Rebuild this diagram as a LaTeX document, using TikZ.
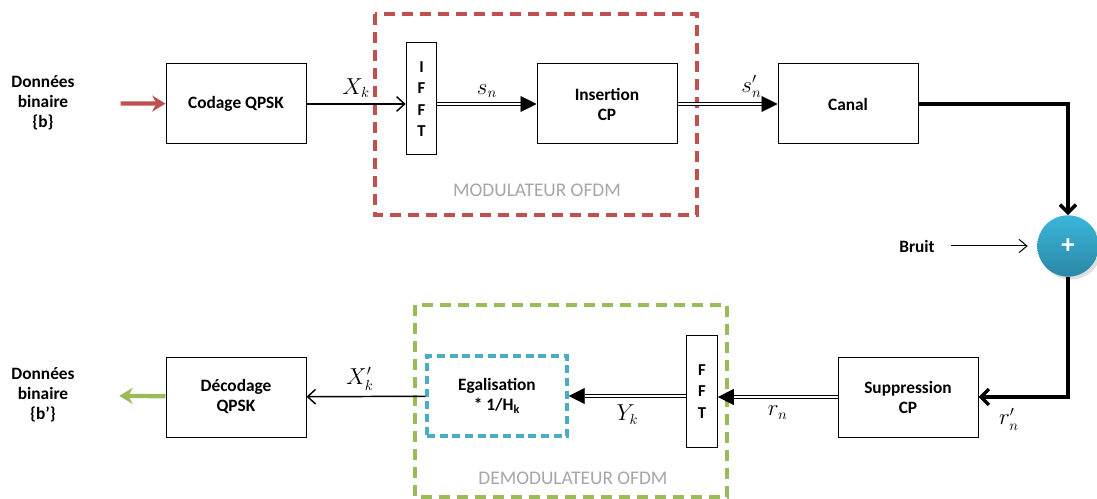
\documentclass[tikz,border=0pt]{standalone}
\usepackage{fontspec}
\setsansfont{Carlito}
\usetikzlibrary{arrows.meta, positioning, shadows}
\definecolor{modred}{HTML}{C0504D}
\definecolor{demgreen}{HTML}{9BBB59}
\definecolor{eqblue}{HTML}{4BACC6}
\definecolor{frametext}{HTML}{A6A6A6}
\definecolor{sumtop}{HTML}{3CB6DA}
\definecolor{sumbot}{HTML}{2A88A6}

\begin{document}
\begin{tikzpicture}[x=0.75pt, y=-0.75pt, >=Stealth,
    blk/.style={draw, line width=0.75pt, minimum width=105pt, minimum height=60pt,
                font=\fontsize{13}{15}\sffamily\bfseries, align=center},
    fftblk/.style={draw, line width=0.75pt, minimum width=23pt, minimum height=84pt,
                   font=\fontsize{12.5}{16}\sffamily\bfseries, align=center},
    txt/.style={font=\fontsize{13}{15}\sffamily\bfseries, align=center},
    sig/.style={font=\fontsize{16}{18}\selectfont},
    framelbl/.style={font=\fontsize{14.5}{16}\sffamily, text=frametext},
    dbl/.style={double, double distance=1.3pt, line width=0.65pt,
                -{Triangle[length=12pt, width=12pt]}},
    thin arrow/.style={line width=1.1pt, -{Straight Barb[length=6pt, width=11pt]}},
    heavy/.style={line width=2.6pt, -{Straight Barb[length=6pt, width=12pt]}}]
  \useasboundingbox (0,0) rectangle (1097,499);

  % frames
  \draw[modred, line width=2.6pt, dash pattern=on 8pt off 5.5pt] (375,14) rectangle (697,215);
  \node[framelbl] (modlbl) at (537,190) {MODULATEUR OFDM};
  \draw[demgreen, line width=2.6pt, dash pattern=on 8pt off 5.5pt] (415,305) rectangle (727,497);
  \node[framelbl] (demlbl) at (573,478) {DEMODULATEUR OFDM};

  % emitter
  \node[txt] (din) at (43,103) {Données\\binaire\\\{b\}};
  \node[blk] (cod) at (236,104) {Codage QPSK};
  \node[fftblk] (ifft) at (421.5,99) {I\\F\\F\\T};
  \node[blk] (ins) at (607,104) {Insertion\\CP};
  \node[blk] (canal) at (848,104) {Canal};

  \draw[modred, line width=3.2pt, -{Stealth[length=10pt, width=12pt]}, shorten <=31pt] (din) -- (cod);
  \draw[thin arrow] (cod) -- (cod -| ifft.west) node[sig, midway, above=1pt] {$X_k$};
  \draw[dbl] (ifft.east |- ins) -- (ins) node[sig, midway, above=1pt] {$s_n$};
  \draw[dbl] (ins) -- (canal) node[sig, midway, above=1pt, xshift=18pt] {$s'_n$};

  % channel and noise
  \node[circle, minimum size=46pt, top color=sumtop, bottom color=sumbot,
        drop shadow={opacity=0.25}, text=white, font=\fontsize{20}{20}\sffamily\bfseries] (sum) at (1068,246) {+};
  \node[txt] (bruit) at (917,246) {Bruit};
  \draw[line width=0.75pt, -{Straight Barb[length=6pt, width=10pt]}, shorten <=9pt, shorten >=7pt] (bruit) -- (sum);
  \draw[heavy] (canal.east) -| (sum.north);

  % receiver
  \node[blk] (sup) at (908,397) {Suppression\\CP};
  \node[fftblk] (fft) at (702,391.5) {F\\F\\T};
  \node[blk, draw=eqblue, line width=2.6pt, dash pattern=on 6pt off 3.5pt] (egal) at (497,396) {Egalisation\\* 1/H\textsubscript{k}};
  \node[blk] (dec) at (236,397) {Décodage\\QPSK};
  \node[txt] (dout) at (43,395) {Données\\binaire\\\{b’\}};

  \draw[heavy] (sum.south) |- (sup.east) node[sig, pos=0.83, below=4pt] {$r'_n$};
  \draw[dbl] (sup) -- (sup -| fft.east) node[sig, midway, below=3pt] {$r_n$};
  \draw[dbl] (fft.west |- egal) -- (egal) node[sig, midway, below=3pt] {$Y_k$};
  \draw[thin arrow] (egal) -- (dec) node[sig, pos=0.55, above=1pt] {$X'_k$};
  \draw[demgreen, line width=3.2pt, -{Stealth[length=10pt, width=12pt]}, shorten >=30pt] (dec) -- (dout);
\end{tikzpicture}
\end{document}
